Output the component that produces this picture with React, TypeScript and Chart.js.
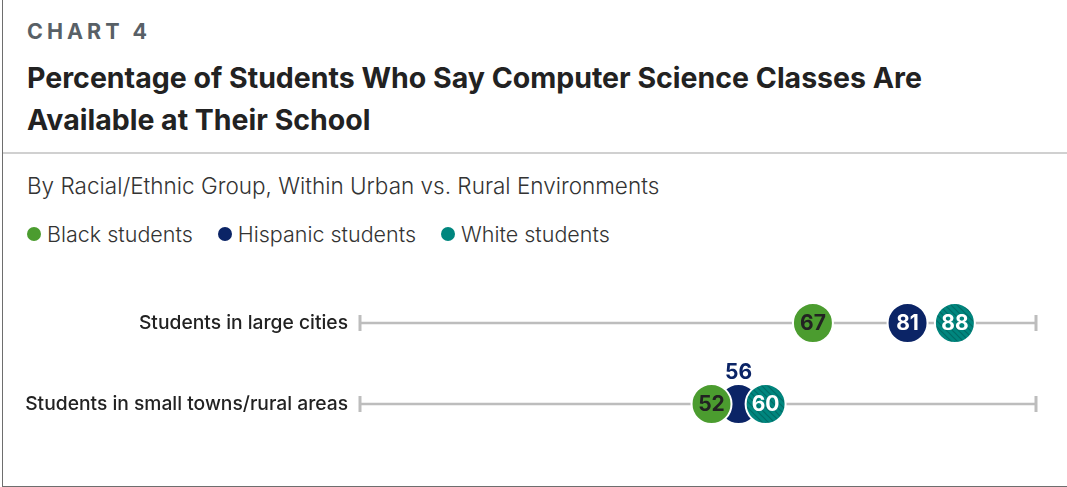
import React, { useEffect, useRef } from "react";
import { Chart, registerables } from "chart.js";

Chart.register(...registerables);

const categories = ["Students in large cities", "Students in small towns/rural areas"];
const seriesNames = ["Black students", "Hispanic students", "White students"];
const blackValues = [67, 52];
const hispanicValues = [81, 56];
const whiteValues = [88, 60];
const xTicks = [0, 100];

const GREEN = "#4b9c2f";
const NAVY = "#0b2466";
const TEAL = "#00867e";
const FONT = "Inter, 'Noto Sans', sans-serif";

function makeStripes(): CanvasPattern | string {
  const c = document.createElement("canvas");
  c.width = 6;
  c.height = 6;
  const g = c.getContext("2d");
  if (!g) return TEAL;
  g.fillStyle = TEAL;
  g.fillRect(0, 0, 6, 6);
  g.strokeStyle = "rgba(0,40,38,0.28)";
  g.lineWidth = 1.2;
  g.beginPath();
  g.moveTo(-1, -1);
  g.lineTo(7, 7);
  g.moveTo(-4, 2);
  g.lineTo(2, 8);
  g.moveTo(2, -4);
  g.lineTo(8, 2);
  g.stroke();
  const p = g.createPattern(c, "repeat");
  return p || TEAL;
}

const rowLines = {
  id: "rowLines",
  beforeDatasetsDraw(chart: any) {
    const { ctx, scales } = chart;
    const xs = scales.x;
    const ys = scales.y;
    const x0 = xs.getPixelForValue(xTicks[0]);
    const x1 = xs.getPixelForValue(xTicks[1]);
    ctx.save();
    ctx.strokeStyle = "#bdbdbd";
    categories.forEach((_, i) => {
      const y = ys.getPixelForValue(i);
      ctx.lineWidth = 2.5;
      ctx.beginPath();
      ctx.moveTo(x0, y);
      ctx.lineTo(x1, y);
      ctx.stroke();
      ctx.lineWidth = 3;
      [x0, x1].forEach((x) => {
        ctx.beginPath();
        ctx.moveTo(x, y - 8);
        ctx.lineTo(x, y + 8);
        ctx.stroke();
      });
    });
    ctx.restore();
  },
};

const valueLabels = {
  id: "valueLabels",
  afterDatasetsDraw(chart: any) {
    const { ctx } = chart;
    ctx.save();
    ctx.font = `bold 21px ${FONT}`;
    ctx.textAlign = "center";
    ctx.textBaseline = "middle";
    const metas = chart.data.datasets.map((_: any, d: number) => chart.getDatasetMeta(d));
    metas.forEach((meta: any, d: number) => {
      meta.data.forEach((pt: any, i: number) => {
        const ds = chart.data.datasets[d];
        const v = ds.data[i].x;
        let left = false;
        let right = false;
        metas.forEach((m2: any, d2: number) => {
          if (d2 === d) return;
          const o = m2.data[i];
          const dx = o.x - pt.x;
          if (Math.abs(dx) < 34) {
            if (dx < 0) left = true;
            else right = true;
          }
        });
        if (left && right) {
          ctx.fillStyle = ds.labelColorAbove;
          ctx.fillText(String(v), pt.x, pt.y - 31);
        } else {
          ctx.fillStyle = ds.labelColor;
          ctx.fillText(String(v), pt.x, pt.y + 1);
        }
      });
    });
    ctx.restore();
  },
};

function ChartCanvas() {
  const ref = useRef<HTMLCanvasElement>(null);
  useEffect(() => {
    if (!ref.current) return;
    const stripes = makeStripes();
    const toPts = (vals: number[]) => vals.map((v, i) => ({ x: v, y: categories[i] }));
    const chart = new Chart(ref.current, {
      type: "scatter",
      data: {
        datasets: [
          {
            label: seriesNames[0],
            data: toPts(blackValues),
            backgroundColor: GREEN,
            pointBackgroundColor: GREEN,
            labelColor: "#222222",
            labelColorAbove: GREEN,
            order: 0,
          } as any,
          {
            label: seriesNames[1],
            data: toPts(hispanicValues),
            backgroundColor: NAVY,
            pointBackgroundColor: NAVY,
            labelColor: "#ffffff",
            labelColorAbove: NAVY,
            order: 1,
          } as any,
          {
            label: seriesNames[2],
            data: toPts(whiteValues),
            backgroundColor: stripes,
            pointBackgroundColor: stripes,
            labelColor: "#ffffff",
            labelColorAbove: TEAL,
            order: 0,
          } as any,
        ],
      },
      options: {
        animation: false,
        responsive: false,
        maintainAspectRatio: false,
        layout: { padding: { top: 63, bottom: 83, left: 0, right: 31 } },
        elements: {
          point: {
            radius: 20,
            hoverRadius: 20,
            borderColor: "#ffffff",
            borderWidth: 2,
          },
        },
        datasets: { scatter: { clip: false } as any },
        plugins: {
          legend: { display: false },
          tooltip: { enabled: false },
          title: { display: false },
        },
        scales: {
          x: {
            type: "linear",
            min: xTicks[0],
            max: xTicks[1],
            display: false,
          },
          y: {
            type: "category",
            labels: categories,
            offset: false,
            afterFit: (s: any) => {
              s.width = 360;
            },
            grid: { display: false, drawTicks: false },
            border: { display: false },
            ticks: {
              padding: 12,
              color: "#222222",
              font: { family: FONT, size: 19.25, weight: 500 as any },
            },
          } as any,
        },
      },
      plugins: [rowLines, valueLabels],
    });
    return () => chart.destroy();
  }, []);
  return (
    <canvas
      ref={ref}
      width={1067}
      height={227}
      style={{ position: "absolute", left: 0, top: 260, width: 1067, height: 227 }}
    />
  );
}

const legendColors = [GREEN, NAVY, TEAL];

export default function App() {
  const abs = (top: number, left: number, extra: React.CSSProperties = {}): React.CSSProperties => ({
    position: "absolute",
    top,
    left,
    margin: 0,
    whiteSpace: "nowrap",
    fontFamily: FONT,
    ...extra,
  });
  return (
    <div
      style={{
        position: "fixed",
        left: 0,
        top: 0,
        width: 1067,
        height: 487,
        background: "#ffffff",
        overflow: "hidden",
      }}
    >
      <div style={{ position: "absolute", left: 2, top: 0, width: 1, height: 487, background: "#6e6e6e" }} />
      <div style={{ position: "absolute", left: 2, top: 486, width: 1065, height: 1, background: "#6e6e6e" }} />
      <div style={{ position: "absolute", left: 3, top: 152, width: 1064, height: 1.5, background: "#d0d0d0" }} />
      <div
        style={abs(21, 27, {
          fontSize: 21.5,
          lineHeight: "21.5px",
          fontWeight: 700,
          letterSpacing: 4,
          color: "#586066",
        })}
      >
        CHART 4
      </div>
      <div
        style={abs(57, 27, {
          fontSize: 28.5,
          lineHeight: "42px",
          fontWeight: 700,
          color: "#222222",
        })}
      >
        Percentage of Students Who Say Computer Science Classes Are
        <br />
        Available at Their School
      </div>
      <div style={abs(174.5, 27, { fontSize: 22.5, lineHeight: "22.5px", fontWeight: 300, color: "#333333" })}>
        By Racial/Ethnic Group, Within Urban vs. Rural Environments
      </div>
      <div
        style={abs(223.5, 27, {
          display: "flex",
          alignItems: "center",
          fontSize: 21.5,
          lineHeight: "21.5px",
          fontWeight: 300,
          color: "#333333",
        })}
      >
        {seriesNames.map((n, i) => (
          <span key={n} style={{ display: "flex", alignItems: "center", marginRight: 25 }}>
            <span
              style={{
                display: "inline-block",
                width: 14,
                height: 14,
                borderRadius: 7,
                background: legendColors[i],
                marginRight: 6,
              }}
            />
            {n}
          </span>
        ))}
      </div>
      <ChartCanvas />
    </div>
  );
}
